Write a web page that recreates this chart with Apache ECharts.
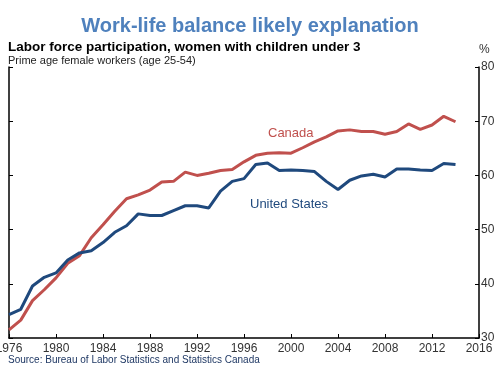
<!DOCTYPE html>
<html>
<head>
<meta charset="utf-8">
<script src="https://cdn.jsdelivr.net/npm/echarts@6/dist/echarts.min.js"></script>
<style>html,body{margin:0;padding:0;background:#fff}#c{width:500px;height:365px}</style>
</head>
<body>
<div id="c"></div>
<script>
const years = [1976,1977,1978,1979,1980,1981,1982,1983,1984,1985,1986,1987,1988,1989,1990,1991,1992,1993,1994,1995,1996,1997,1998,1999,2000,2001,2002,2003,2004,2005,2006,2007,2008,2009,2010,2011,2012,2013,2014];
const canada = [31.5,33.3,36.9,38.9,41.1,43.8,45.2,48.5,50.9,53.4,55.7,56.4,57.3,58.8,58.9,60.6,60.0,60.4,60.9,61.1,62.5,63.7,64.1,64.2,64.1,65.1,66.2,67.1,68.2,68.4,68.1,68.1,67.6,68.1,69.5,68.5,69.3,70.9,69.9];
const unitedStates = [34.3,35.3,39.6,41.2,42.0,44.4,45.7,46.1,47.6,49.5,50.7,52.9,52.6,52.6,53.5,54.4,54.4,54.0,57.1,58.9,59.4,62.0,62.3,60.9,61.0,60.9,60.7,58.9,57.4,59.1,59.9,60.2,59.7,61.2,61.2,61.0,60.9,62.2,62.0];
const yTicks = [30,40,50,60,70,80];
const xTicks = [1976,1980,1984,1988,1992,1996,2000,2004,2008,2012,2016];

const font = 'Liberation Sans, Arial, sans-serif';
const chart = echarts.init(document.getElementById('c'), null, {renderer:'canvas'});
const axisCommon = {
  type:'value', min:yTicks[0], max:yTicks[yTicks.length-1], interval:10,
  splitLine:{show:false},
  axisLine:{show:true, lineStyle:{color:'#000', width:1.5}},
  axisTick:{show:true, inside:true, length:4, lineStyle:{color:'#000', width:1}}
};
chart.setOption({
  animation:false,
  grid:{left:9, right:21, top:67, bottom:27, containLabel:false, outerBoundsMode:'none'},
  xAxis:{
    type:'value', min:xTicks[0], max:xTicks[xTicks.length-1], interval:4,
    splitLine:{show:false},
    axisLine:{show:true, onZero:false, lineStyle:{color:'#000', width:1.5}},
    axisTick:{show:true, inside:true, length:4, lineStyle:{color:'#000', width:1}},
    axisLabel:{color:'#333', fontFamily:font, fontSize:12, margin:5, showMinLabel:true, showMaxLabel:true, hideOverlap:false, formatter:v=>String(v)}
  },
  yAxis:[
    Object.assign({}, axisCommon, {position:'left', axisLabel:{show:false}}),
    Object.assign({}, axisCommon, {position:'right', axisLabel:{show:true, color:'#333', fontFamily:font, fontSize:12, margin:2, showMinLabel:true, showMaxLabel:true}})
  ],
  series:[
    {name:'Canada', type:'line', data:years.map((y,i)=>[y,canada[i]]), symbol:'none', lineStyle:{color:'#C0504D', width:3}},
    {name:'United States', type:'line', data:years.map((y,i)=>[y,unitedStates[i]]), symbol:'none', lineStyle:{color:'#1F497D', width:3}}
  ],
  graphic:[
    {type:'text', left:'center', top:16, style:{text:'Work-life balance likely explanation', font:'bold 20px '+font, fill:'#4F81BD'}},
    {type:'text', left:8, top:40, style:{text:'Labor force participation, women with children under 3', font:'bold 13.5px '+font, fill:'#000'}},
    {type:'text', left:8, top:55, style:{text:'Prime age female workers (age 25-54)', font:'11px '+font, fill:'#222'}},
    {type:'text', left:479, top:44, style:{text:'%', font:'12px '+font, fill:'#333'}},
    {type:'text', left:8, top:355, style:{text:'Source: Bureau of Labor Statistics and Statistics Canada', font:'10px '+font, fill:'#1F3864'}},
    {type:'text', left:268, top:127, style:{text:'Canada', font:'13px '+font, fill:'#C0504D'}},
    {type:'text', left:250, top:198, style:{text:'United States', font:'13px '+font, fill:'#1F497D'}}
  ]
});
</script>
</body>
</html>
